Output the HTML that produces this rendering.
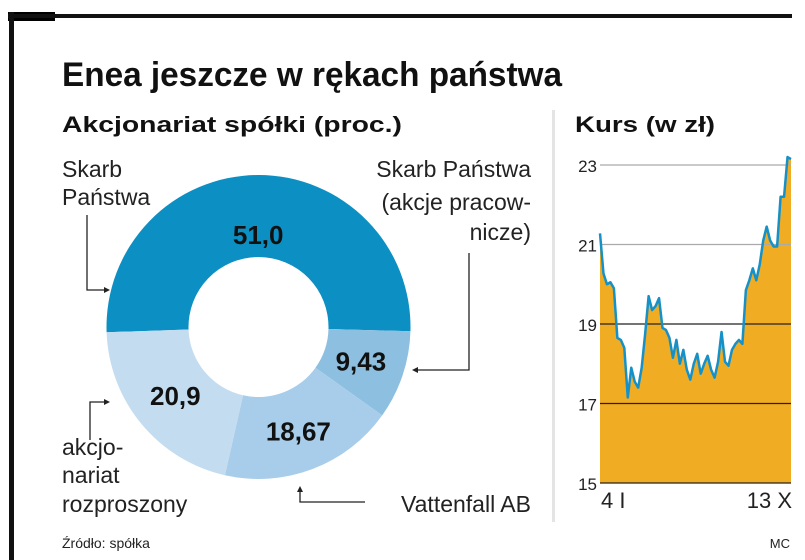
<!DOCTYPE html>
<html><head><meta charset="utf-8"><style>
body{margin:0;background:#fff;width:805px;height:560px;overflow:hidden;font-family:"Liberation Sans",sans-serif}
svg{display:block}
</style></head><body>
<svg width="805" height="560">
<rect x="8" y="12" width="47" height="9" fill="#000"/>
<rect x="8" y="14" width="784" height="4" fill="#111"/>
<rect x="9" y="12" width="5" height="548" fill="#111"/>
<text x="62" y="86" font-size="34" font-weight="bold" fill="#111" textLength="500" lengthAdjust="spacingAndGlyphs">Enea jeszcze w rękach państwa</text>
<text x="62" y="132" font-size="22" font-weight="bold" fill="#111" textLength="340" lengthAdjust="spacingAndGlyphs">Akcjonariat spółki (proc.)</text>
<text x="575" y="132" font-size="22" font-weight="bold" fill="#111" textLength="140" lengthAdjust="spacingAndGlyphs">Kurs (w zł)</text>
<rect x="552" y="110" width="3" height="412" fill="#e4e4e4"/>
<g id="donut"></g>
<g font-size="23" fill="#222">
<text x="62" y="177">Skarb</text><text x="62" y="205">Państwa</text>
<text x="531" y="177" text-anchor="end">Skarb Państwa</text>
<text x="531" y="210" text-anchor="end">(akcje pracow-</text>
<text x="531" y="240" text-anchor="end">nicze)</text>
<text x="62" y="455">akcjo-</text><text x="62" y="483">nariat</text><text x="62" y="512">rozproszony</text>
<text x="531" y="512" text-anchor="end">Vattenfall AB</text>
</g>
<g stroke="#222" stroke-width="1.3" fill="none">
<polyline points="87,215 87,290 106,290"/><polyline points="469,253 469,370 416,370"/>
<polyline points="90,440 90,402 106,402"/><polyline points="300,490 300,502 365,502"/>
</g>
<g fill="#222">
<polygon points="110,290 104,287 104,293"/><polygon points="412,370 418,367 418,373"/>
<polygon points="110,402 104,399 104,405"/><polygon points="300,486 297,492 303,492"/>
</g>
<g id="price"></g>
<text x="62" y="548" font-size="14" fill="#222">Źródło: spółka</text>
<text x="790" y="548" font-size="13" fill="#222" text-anchor="end">MC</text>
</svg>
<script>
const shareLabels=["51,0","9,43","18,67","20,9"];
const shareValues=[51.0,9.43,18.67,20.9];
const priceTicks=[15,17,19,21,23];
const dateLabels=["4 I","13 X"];
const prices=[21.28,20.27,20.0,20.05,19.9,18.65,18.6,18.4,17.15,17.9,17.55,17.4,17.9,18.75,19.7,19.35,19.45,19.65,18.9,18.85,18.65,18.15,18.6,18.0,18.35,17.85,17.6,18.0,18.25,17.75,18.0,18.2,17.85,17.65,18.05,18.8,18.05,17.95,18.35,18.5,18.6,18.5,19.85,20.1,20.4,20.1,20.5,21.1,21.45,21.1,20.95,20.95,22.2,22.2,23.2,23.15];
const NS="http://www.w3.org/2000/svg";
function mk(t,a,p){const e=document.createElementNS(NS,t);for(const k in a)e.setAttribute(k,a[k]);p.appendChild(e);return e;}
const dg=document.getElementById('donut');
const cx=258.5,cy=327,R=152,r=70,colors=["#0c8fc2","#8dbfe0","#a8cdea","#c4dcef"];
const labR=[92,108,112,108];
const total=shareValues.reduce((a,b)=>a+b,0);
let ang=178*Math.PI/180;
shareValues.forEach((v,i)=>{
  const a0=ang,a1=ang+v/total*2*Math.PI;ang=a1;
  const lg=(a1-a0)>Math.PI?1:0;
  const d=`M${cx+R*Math.cos(a0)},${cy+R*Math.sin(a0)} A${R},${R} 0 ${lg} 1 ${cx+R*Math.cos(a1)},${cy+R*Math.sin(a1)} L${cx+r*Math.cos(a1)},${cy+r*Math.sin(a1)} A${r},${r} 0 ${lg} 0 ${cx+r*Math.cos(a0)},${cy+r*Math.sin(a0)} Z`;
  const p=mk('path',{d:d,fill:colors[i]},dg);
  
  
  const m=(a0+a1)/2,rr=labR[i];
  const t=mk('text',{x:cx+rr*Math.cos(m),y:cy+rr*Math.sin(m)+9,'font-size':26,'font-weight':'bold','text-anchor':'middle',fill:'#111'},dg);
  t.textContent=shareLabels[i];
  
  
});
const pg=document.getElementById('price');
const x0=600,x1=791,yT=165,yB=483,vMin=15,vMax=23;
const ys=v=>yB-(v-vMin)/(vMax-vMin)*(yB-yT);
const xs=i=>x0+i/(prices.length-1)*(x1-x0);
let pts=prices.map((v,i)=>xs(i)+','+ys(v)).join(' ');
const area=mk('polygon',{points:x0+','+yB+' '+pts+' '+x1+','+yB,fill:'#f0ac22'},pg);


priceTicks.forEach(v=>{
  const l=mk('line',{x1:x0,x2:x1,y1:ys(v),y2:ys(v),stroke:v>=21?'#aaa':'#222','stroke-width':1.2},pg);
  
  
  const t=mk('text',{x:597,y:ys(v)+7,'font-size':17,'text-anchor':'end',fill:'#222'},pg);
  t.textContent=v;
  
  
});
const ln=mk('polyline',{points:pts,fill:'none',stroke:'#1591c8','stroke-width':2.5,'stroke-linejoin':'round'},pg);


const d1=mk('text',{x:601,y:508,'font-size':22,fill:'#222'},pg);d1.textContent=dateLabels[0];


const d2=mk('text',{x:792,y:508,'font-size':22,'text-anchor':'end',fill:'#222'},pg);d2.textContent=dateLabels[1];


</script>
</body></html>
